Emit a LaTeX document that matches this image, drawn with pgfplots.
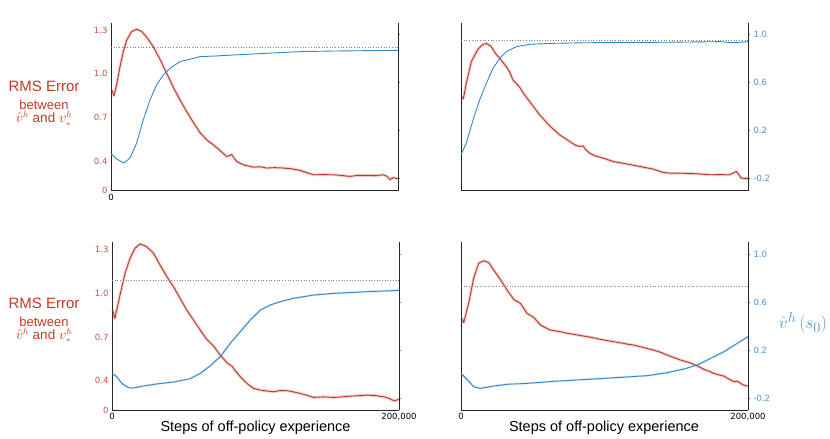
\documentclass[border=0pt]{standalone}
\usepackage{pgfplots}
\pgfplotsset{compat=1.18}
\usepackage{fontspec}
\setmainfont{Liberation Sans}
\newfontfamily\tickfont{DejaVu Sans}
\definecolor{rmsred}{RGB}{192,57,43}
\definecolor{rmsredlt}{RGB}{205,80,70}
\definecolor{vblue}{RGB}{52,136,196}
\definecolor{vbluelt}{RGB}{75,150,205}
\pgfplotsset{
  panel/.style={scale only axis, width=287pt, height=168pt, xmin=0, xmax=200,
    axis line style={-, draw=black!85, line width=0.9pt},
    tick label style={font=\tickfont\fontsize{8.5}{9}\selectfont},
    clip=false},
  redaxis/.style={panel, ymin=0.2, ymax=1.35,
    axis x line*=bottom, axis y line*=left,
    ytick={0.2,0.4,0.7,1.0,1.3}, yticklabels={0,0.4,0.7,1.0,1.3},
    yticklabel style={text=rmsredlt},
    xticklabel style={text=black},
    major tick length=0pt},
  blueaxis/.style={panel, ymin=-0.3, ymax=1.1,
    axis x line=none, axis y line*=right,
    ytick={-0.2,0.2,0.6,1.0}, yticklabels={-0.2,0.2,0.6,1.0},
    yticklabel style={text=vbluelt},
    major tick length=2pt, tick align=outside,
    ytick style={draw=black!50, line width=0.4pt}},
  redband/.style={rmsred, line width=2.8pt, opacity=0.25, line join=round},
  redline/.style={rmsred, line width=0.9pt, line join=round},
  blueband/.style={vblue, line width=2.2pt, opacity=0.2, line join=round},
  blueline/.style={vblue, line width=0.9pt, line join=round},
  dotline/.style={black!50, dotted, line width=0.7pt},
}
\newcommand{\rmslabel}[1]{%
  \node[text=rmsred, inner sep=0pt, font=\fontsize{15}{17}\selectfont] at (44pt,#1+1.5pt) {RMS Error};
  \node[text=rmsred, inner sep=0pt, anchor=base, font=\fontsize{13}{14}\selectfont] at (44pt,#1-21.7pt) {between};
  \node[text=rmsred, inner sep=0pt, anchor=base, font=\fontsize{13.5}{14}\selectfont] at (44pt,#1-34.4pt) {$\hat{v}^h$ and $v_*^h$};}
\begin{document}
\begin{tikzpicture}
\path[use as bounding box] (0pt,0pt) rectangle (830pt,439pt);

% ---------- top-left ----------
\begin{axis}[redaxis, at={(111pt,248.3pt)}, anchor=south west, xtick={0}, xticklabels={0}]
\addplot[redband] coordinates {(0.5,0.89)(2.1,0.85)(4,0.93)(6.3,1.05)(8.5,1.15)(10.9,1.23)(14.4,1.29)(17.9,1.305)(21.4,1.29)(24.9,1.25)(29.5,1.186)(34.1,1.10)(38.8,1.004)(43.4,0.908)(48.1,0.822)(52.7,0.742)(57.4,0.667)(62,0.598)(66.7,0.548)(71.3,0.514)(76,0.475)(80.6,0.434)(82.5,0.44)(84.1,0.448)(86,0.42)(87.6,0.40)(92.2,0.377)(99.2,0.361)(104,0.364)(108.5,0.355)(114,0.358)(120.1,0.355)(126,0.35)(131.7,0.339)(136,0.325)(141,0.309)(148,0.31)(155,0.309)(160,0.305)(166.6,0.298)(172,0.305)(178.2,0.305)(184,0.303)(189.8,0.309)(192,0.3)(194.4,0.277)(197,0.29)(200,0.28)};
\addplot[redline] coordinates {(0.5,0.89)(2.1,0.85)(4,0.93)(6.3,1.05)(8.5,1.15)(10.9,1.23)(14.4,1.29)(17.9,1.305)(21.4,1.29)(24.9,1.25)(29.5,1.186)(34.1,1.10)(38.8,1.004)(43.4,0.908)(48.1,0.822)(52.7,0.742)(57.4,0.667)(62,0.598)(66.7,0.548)(71.3,0.514)(76,0.475)(80.6,0.434)(82.5,0.44)(84.1,0.448)(86,0.42)(87.6,0.40)(92.2,0.377)(99.2,0.361)(104,0.364)(108.5,0.355)(114,0.358)(120.1,0.355)(126,0.35)(131.7,0.339)(136,0.325)(141,0.309)(148,0.31)(155,0.309)(160,0.305)(166.6,0.298)(172,0.305)(178.2,0.305)(184,0.303)(189.8,0.309)(192,0.3)(194.4,0.277)(197,0.29)(200,0.28)};
\end{axis}
\begin{axis}[blueaxis, at={(111pt,248.3pt)}, anchor=south west, yticklabels={}]
\addplot[dotline] coordinates {(0,0.895)(200,0.895)};
\addplot[blueline] coordinates {(0,0.008)(4,-0.036)(9,-0.07)(13.2,-0.028)(17.9,0.097)(22.5,0.29)(27.2,0.457)(31.8,0.582)(36.5,0.665)(41.1,0.72)(48.1,0.776)(55,0.795)(62,0.817)(73.6,0.823)(85.3,0.831)(108.5,0.845)(131.7,0.859)(155,0.864)(178,0.867)(200,0.87)};
\end{axis}

% ---------- top-right ----------
\begin{axis}[redaxis, at={(461pt,248.3pt)}, anchor=south west, xtick=\empty, ytick=\empty]
\addplot[redband] coordinates {(0.7,0.844)(1.6,0.828)(3.7,0.936)(7.2,1.084)(11.8,1.168)(14.5,1.195)(17.7,1.209)(21.1,1.186)(24,1.14)(27,1.106)(31.6,1.049)(34,1.01)(36.2,0.958)(40.9,0.908)(44,0.86)(47.9,0.81)(54.8,0.719)(61.8,0.644)(68.8,0.582)(75.7,0.537)(80,0.51)(82.7,0.503)(85,0.507)(87,0.48)(89.7,0.457)(93,0.44)(96.6,0.43)(100,0.42)(105.9,0.40)(115.2,0.384)(124.5,0.366)(133.8,0.348)(140.8,0.325)(146,0.32)(152.4,0.32)(158,0.318)(164,0.316)(173.3,0.309)(180,0.31)(187.2,0.309)(191.9,0.332)(195.4,0.286)(200,0.282)};
\addplot[redline] coordinates {(0.7,0.844)(1.6,0.828)(3.7,0.936)(7.2,1.084)(11.8,1.168)(14.5,1.195)(17.7,1.209)(21.1,1.186)(24,1.14)(27,1.106)(31.6,1.049)(34,1.01)(36.2,0.958)(40.9,0.908)(44,0.86)(47.9,0.81)(54.8,0.719)(61.8,0.644)(68.8,0.582)(75.7,0.537)(80,0.51)(82.7,0.503)(85,0.507)(87,0.48)(89.7,0.457)(93,0.44)(96.6,0.43)(100,0.42)(105.9,0.40)(115.2,0.384)(124.5,0.366)(133.8,0.348)(140.8,0.325)(146,0.32)(152.4,0.32)(158,0.318)(164,0.316)(173.3,0.309)(180,0.31)(187.2,0.309)(191.9,0.332)(195.4,0.286)(200,0.282)};
\end{axis}
\begin{axis}[blueaxis, at={(461pt,248.3pt)}, anchor=south west]
\addplot[dotline] coordinates {(0,0.953)(200,0.953)};
\addplot[blueline] coordinates {(0,0.0)(3.7,0.097)(8.4,0.29)(13,0.457)(17.7,0.595)(22.3,0.72)(27,0.803)(31.6,0.859)(38.6,0.90)(47.9,0.92)(64.1,0.928)(87.3,0.933)(133.8,0.936)(180,0.942)(189.6,0.933)(200,0.942)};
\end{axis}

% ---------- bottom-left ----------
\begin{axis}[redaxis, at={(112pt,29pt)}, anchor=south west, xtick={0,200}, xticklabels={0,{200,000}}]
\addplot[redband] coordinates {(0.5,0.884)(2,0.827)(5.6,0.987)(9.1,1.136)(12.6,1.238)(16,1.307)(19.6,1.337)(24.2,1.318)(28.9,1.273)(33.5,1.193)(38.2,1.113)(42.8,1.044)(47.5,0.964)(52.1,0.884)(56.8,0.816)(61.5,0.747)(66.1,0.683)(70.8,0.638)(75.4,0.576)(80.1,0.524)(82,0.51)(83.6,0.50)(85.9,0.469)(89.4,0.428)(94,0.382)(98.7,0.348)(103.4,0.336)(108,0.33)(112.7,0.325)(117,0.333)(122,0.332)(126,0.325)(131.3,0.313)(136,0.3)(140.6,0.286)(147,0.29)(154.6,0.286)(160,0.29)(166.2,0.295)(172,0.298)(177.9,0.302)(184,0.298)(189.5,0.29)(193,0.28)(196.5,0.263)(200,0.272)};
\addplot[redline] coordinates {(0.5,0.884)(2,0.827)(5.6,0.987)(9.1,1.136)(12.6,1.238)(16,1.307)(19.6,1.337)(24.2,1.318)(28.9,1.273)(33.5,1.193)(38.2,1.113)(42.8,1.044)(47.5,0.964)(52.1,0.884)(56.8,0.816)(61.5,0.747)(66.1,0.683)(70.8,0.638)(75.4,0.576)(80.1,0.524)(82,0.51)(83.6,0.50)(85.9,0.469)(89.4,0.428)(94,0.382)(98.7,0.348)(103.4,0.336)(108,0.33)(112.7,0.325)(117,0.333)(122,0.332)(126,0.325)(131.3,0.313)(136,0.3)(140.6,0.286)(147,0.29)(154.6,0.286)(160,0.29)(166.2,0.295)(172,0.298)(177.9,0.302)(184,0.298)(189.5,0.29)(193,0.28)(196.5,0.263)(200,0.272)};
\end{axis}
\begin{axis}[blueaxis, at={(112pt,29pt)}, anchor=south west, yticklabels={}]
\addplot[dotline] coordinates {(0,0.783)(200,0.783)};
\addplot[blueband] coordinates {(0,0.005)(3.3,-0.022)(6.8,-0.078)(11.4,-0.114)(14.9,-0.117)(21.9,-0.10)(31.2,-0.083)(42.8,-0.067)(54.5,-0.039)(61.5,0.005)(68.4,0.067)(75.4,0.144)(82.4,0.256)(89.4,0.353)(96.4,0.45)(103.4,0.533)(110.3,0.575)(117.3,0.603)(126.6,0.631)(140.6,0.658)(154.6,0.672)(177.9,0.686)(200,0.697)};
\addplot[blueline] coordinates {(0,0.005)(3.3,-0.022)(6.8,-0.078)(11.4,-0.114)(14.9,-0.117)(21.9,-0.10)(31.2,-0.083)(42.8,-0.067)(54.5,-0.039)(61.5,0.005)(68.4,0.067)(75.4,0.144)(82.4,0.256)(89.4,0.353)(96.4,0.45)(103.4,0.533)(110.3,0.575)(117.3,0.603)(126.6,0.631)(140.6,0.658)(154.6,0.672)(177.9,0.686)(200,0.697)};
\end{axis}

% ---------- bottom-right ----------
\begin{axis}[redaxis, at={(461pt,29pt)}, anchor=south west, ytick=\empty, xtick={0,200}, xticklabels={0,{200,000}}]
\addplot[redband] coordinates {(0.5,0.827)(1.9,0.798)(5.3,0.93)(8.8,1.101)(12.3,1.204)(15.8,1.222)(19.3,1.209)(22.8,1.158)(27.4,1.094)(32.1,1.021)(36.8,0.957)(41.4,0.93)(46.1,0.861)(50.7,0.834)(55.4,0.781)(62.3,0.747)(69.3,0.736)(74,0.725)(78.6,0.718)(83,0.71)(87.9,0.702)(92,0.695)(97.2,0.683)(102,0.675)(106.5,0.667)(111,0.66)(115.8,0.651)(120,0.645)(125.1,0.633)(130,0.62)(134.4,0.61)(139,0.595)(143.7,0.576)(148,0.56)(153,0.542)(158,0.528)(162.3,0.512)(166,0.495)(169.3,0.478)(173,0.465)(176.3,0.45)(180,0.44)(183.3,0.432)(187,0.41)(190.3,0.393)(192.5,0.398)(194.9,0.382)(197,0.37)(200,0.364)};
\addplot[redline] coordinates {(0.5,0.827)(1.9,0.798)(5.3,0.93)(8.8,1.101)(12.3,1.204)(15.8,1.222)(19.3,1.209)(22.8,1.158)(27.4,1.094)(32.1,1.021)(36.8,0.957)(41.4,0.93)(46.1,0.861)(50.7,0.834)(55.4,0.781)(62.3,0.747)(69.3,0.736)(74,0.725)(78.6,0.718)(83,0.71)(87.9,0.702)(92,0.695)(97.2,0.683)(102,0.675)(106.5,0.667)(111,0.66)(115.8,0.651)(120,0.645)(125.1,0.633)(130,0.62)(134.4,0.61)(139,0.595)(143.7,0.576)(148,0.56)(153,0.542)(158,0.528)(162.3,0.512)(166,0.495)(169.3,0.478)(173,0.465)(176.3,0.45)(180,0.44)(183.3,0.432)(187,0.41)(190.3,0.393)(192.5,0.398)(194.9,0.382)(197,0.37)(200,0.364)};
\end{axis}
\begin{axis}[blueaxis, at={(461pt,29pt)}, anchor=south west]
\addplot[dotline] coordinates {(0,0.728)(200,0.728)};
\addplot[blueband] coordinates {(0,0.005)(4.2,-0.045)(8.8,-0.106)(13.5,-0.12)(22.8,-0.10)(32.1,-0.086)(46.1,-0.078)(64.7,-0.061)(87.9,-0.045)(111.2,-0.028)(129.8,-0.014)(143.7,0.011)(155.4,0.042)(164.7,0.075)(174,0.13)(183.3,0.186)(192.6,0.256)(200,0.311)};
\addplot[blueline] coordinates {(0,0.005)(4.2,-0.045)(8.8,-0.106)(13.5,-0.12)(22.8,-0.10)(32.1,-0.086)(46.1,-0.078)(64.7,-0.061)(87.9,-0.045)(111.2,-0.028)(129.8,-0.014)(143.7,0.011)(155.4,0.042)(164.7,0.075)(174,0.13)(183.3,0.186)(192.6,0.256)(200,0.311)};
\end{axis}

% ---------- labels ----------
\rmslabel{350.7pt}
\rmslabel{134pt}
\node[inner sep=0pt, font=\fontsize{14.5}{16}\selectfont] at (255.5pt,11pt) {Steps of off-policy experience};
\node[inner sep=0pt, font=\fontsize{14.5}{16}\selectfont] at (604pt,11pt) {Steps of off-policy experience};
\node[text=vbluelt, inner sep=0pt, font=\fontsize{19}{21}\selectfont] at (803pt,116pt) {$\hat{v}^h\,(s_0)$};
\end{tikzpicture}
\end{document}
